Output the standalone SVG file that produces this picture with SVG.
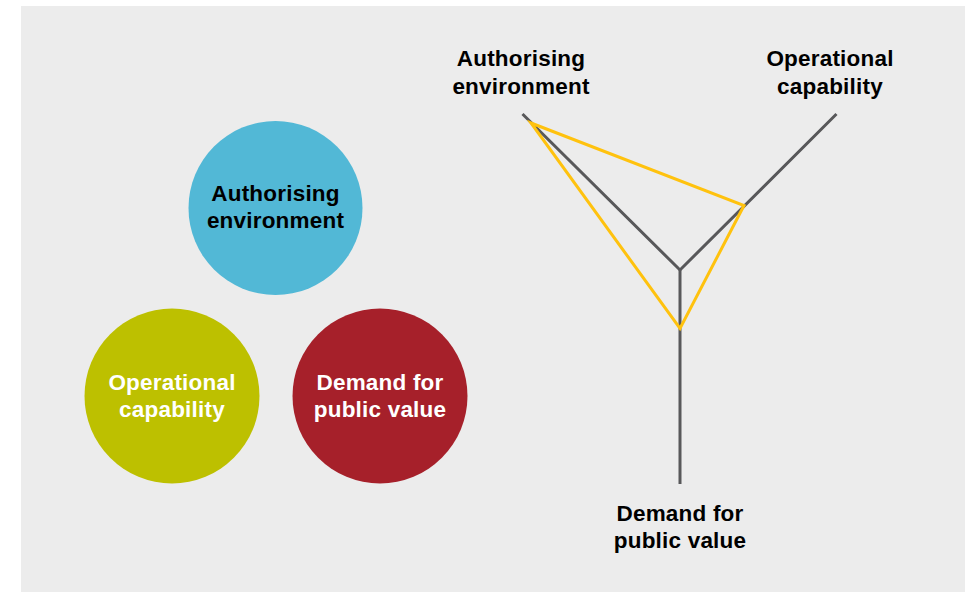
<svg xmlns="http://www.w3.org/2000/svg" width="965" height="592" viewBox="0 0 965 592">
<style>
.lbl{font-family:"Liberation Sans",Arial,Helvetica,sans-serif;font-weight:bold;font-size:22.5px;text-anchor:middle;letter-spacing:0.2px}
.dark{fill:#000}
.light{fill:#fff}
.axis{stroke:#58585a;stroke-width:3;fill:none}
.tri{stroke:#ffc20e;stroke-width:3;fill:none;stroke-linejoin:miter}
</style>
<rect x="21" y="6" width="944" height="586" fill="#ececec"/>
<g id="node-authorising">
<circle cx="275.5" cy="208" r="87" fill="#52b8d6"/>
<text class="lbl dark" x="275.5" y="201">Authorising</text>
<text class="lbl dark" x="275.5" y="227.5">environment</text>
</g>
<g id="node-operational">
<circle cx="172" cy="396" r="87.5" fill="#bdc000"/>
<text class="lbl light" x="172" y="390">Operational</text>
<text class="lbl light" x="172" y="416.5">capability</text>
</g>
<g id="node-demand">
<circle cx="380" cy="396" r="87.5" fill="#a6202a"/>
<text class="lbl light" x="380" y="390">Demand for</text>
<text class="lbl light" x="380" y="416.5">public value</text>
</g>
<g id="connectors">
<polyline class="axis" points="522.5,114 680,270 836.5,114"/>
<line class="axis" x1="680" y1="270" x2="680" y2="484"/>
<polygon class="tri" points="531,123 744,205.5 680,328.5"/>
</g>
<g id="label-authorising">
<text class="lbl dark" x="521" y="66">Authorising</text>
<text class="lbl dark" x="521" y="93.5">environment</text>
</g>
<g id="label-operational">
<text class="lbl dark" x="830" y="66">Operational</text>
<text class="lbl dark" x="830" y="93.5">capability</text>
</g>
<g id="label-demand">
<text class="lbl dark" x="680" y="521">Demand for</text>
<text class="lbl dark" x="680" y="548">public value</text>
</g>
</svg>
